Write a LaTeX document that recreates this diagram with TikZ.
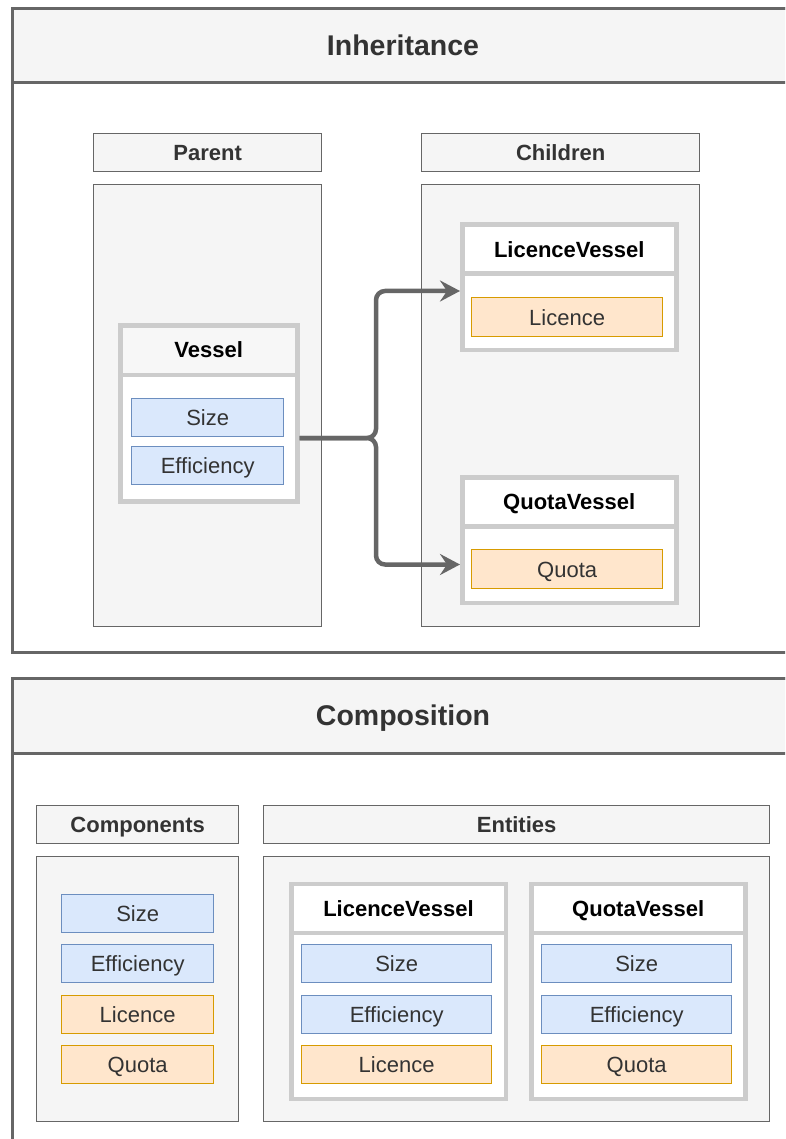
\documentclass[tikz,border=0pt]{standalone}
\usepackage{fontspec}
\setmainfont{Liberation Sans}
\usetikzlibrary{arrows.meta,positioning}

\definecolor{frameline}{HTML}{666666}
\definecolor{headfill}{HTML}{F5F5F5}
\definecolor{textgray}{HTML}{333333}
\definecolor{classline}{HTML}{CCCCCC}
\definecolor{bluefill}{HTML}{DAE8FC}
\definecolor{blueline}{HTML}{6C8EBF}
\definecolor{orangefill}{HTML}{FFE6CC}
\definecolor{orangeline}{HTML}{D79B00}

\begin{document}
\begin{tikzpicture}[x=1pt, y=-1pt,
    every node/.style = {inner sep=0pt, anchor=north west},
    label22/.style = {font=\fontsize{22}{26}\selectfont, text height=15.7pt, text depth=0pt},
    frame/.style = {draw=frameline, fill=white, line width=3pt},
    band/.style = {frame, fill=headfill, text=textgray, font=\bfseries\fontsize{28.5}{34}\selectfont, text height=20.4pt, text depth=0pt},
    colhead/.style = {label22, draw=frameline, fill=headfill, line width=1.3pt, text=textgray, font=\bfseries\fontsize{22}{26}\selectfont, minimum height=38pt},
    colbody/.style = {draw=frameline, fill=headfill, line width=1.3pt},
    classhead/.style = {label22, draw=classline, fill=white, line width=4.5pt, font=\bfseries\fontsize{22}{26}\selectfont, minimum height=49pt},
    classbody/.style = {draw=classline, fill=white, line width=4.5pt},
    attr/.style = {label22, line width=1.3pt, text=textgray, minimum height=38pt},
    shared/.style = {attr, draw=blueline, fill=bluefill},
    own/.style = {attr, draw=orangeline, fill=orangefill},
    inherit/.style = {draw=frameline, line width=4.5pt, rounded corners=9pt, -{Stealth[length=20pt, width=21pt, inset=7pt]}}]
    \path[use as bounding box, clip] (0,0) rectangle (785,1139);

    % inheritance
    \node[frame, minimum width=781pt, minimum height=644pt] (inheritance) at (11,7) {};
    \node[band, minimum width=781pt, minimum height=74.5pt] (inheritancetitle) at (11,7) {Inheritance};

    \node[colhead, minimum width=228pt] (parent) at (93,133) {Parent};
    \node[colbody, minimum width=228pt, minimum height=442pt] (parentbox) at (93,184) {};
    \node[colhead, minimum width=278pt] (children) at (421,133) {Children};
    \node[colbody, minimum width=278pt, minimum height=442pt] (childrenbox) at (421,184) {};

    \node[classbody, minimum width=177pt, minimum height=126.5pt] (vesselbody) at (118,372.5) {};
    \node[classhead, fill=black!3, minimum width=177pt, minimum height=49.5pt] (vessel) at (118,323) {Vessel};
    \node[shared, minimum width=152pt] (vsize) at (131,398) {Size};
    \node[shared, minimum width=152pt, below=8.7pt of vsize] (veff) {Efficiency};

    \node[classbody, minimum width=214pt, minimum height=76pt] (lvbody) at (460,271.5) {};
    \node[classhead, minimum width=214pt] (lv) at (460,222.5) {LicenceVessel};
    \node[own, minimum width=191pt, minimum height=39pt] (lvlicence) at (471,297) {Licence};

    \node[classbody, minimum width=214pt, minimum height=76.5pt] (qvbody) at (460,524) {};
    \node[classhead, minimum width=214pt] (qv) at (460,475) {QuotaVessel};
    \node[own, minimum width=191pt, minimum height=39pt] (qvquota) at (471,549) {Quota};

    \coordinate (split) at (vesselbody.east -| 376,0);
    \coordinate (lventry) at (lvbody.west |- 0,291);
    \draw[inherit] (vesselbody.east) -- (split) |- (lventry);
    \draw[inherit] (vesselbody.east) -- (split) |- (qvbody.west);

    % composition
    \node[frame, minimum width=781pt, minimum height=500pt] (composition) at (11,676.5) {};
    \node[band, minimum width=781pt, minimum height=75.5pt] (compositiontitle) at (11,676.5) {Composition};

    \node[colhead, minimum width=202pt] (components) at (36,805) {Components};
    \node[colbody, minimum width=202pt, minimum height=265pt] (componentsbox) at (36,856) {};
    \node[colhead, minimum width=506pt] (entities) at (263,805) {Entities};
    \node[colbody, minimum width=506pt, minimum height=265pt] (entitiesbox) at (263,856) {};

    \node[shared, minimum width=152pt] (csize) at (61,893.5) {Size};
    \node[shared, minimum width=152pt, below=11.2pt of csize] (ceff) {Efficiency};
    \node[own, minimum width=152pt, below=11.2pt of ceff] (clicence) {Licence};
    \node[own, minimum width=152pt, below=11.2pt of clicence] (cquota) {Quota};

    \node[classbody, minimum width=214.5pt, minimum height=166pt] (elvbody) at (289,930.5) {};
    \node[classhead, minimum width=214.5pt] (elv) at (289,881.5) {LicenceVessel};
    \node[shared, minimum width=190pt] (elvsize) at (301,944) {Size};
    \node[shared, minimum width=190pt, below=11.2pt of elvsize] (elveff) {Efficiency};
    \node[own, minimum width=190pt, below=11.2pt of elveff] (elvlicence) {Licence};

    \node[classbody, minimum width=214pt, minimum height=166pt] (eqvbody) at (529,930.5) {};
    \node[classhead, minimum width=214pt] (eqv) at (529,881.5) {QuotaVessel};
    \node[shared, minimum width=190pt] (eqvsize) at (541,944) {Size};
    \node[shared, minimum width=190pt, below=11.2pt of eqvsize] (eqveff) {Efficiency};
    \node[own, minimum width=190pt, below=11.2pt of eqveff] (eqvquota) {Quota};
\end{tikzpicture}
\end{document}
